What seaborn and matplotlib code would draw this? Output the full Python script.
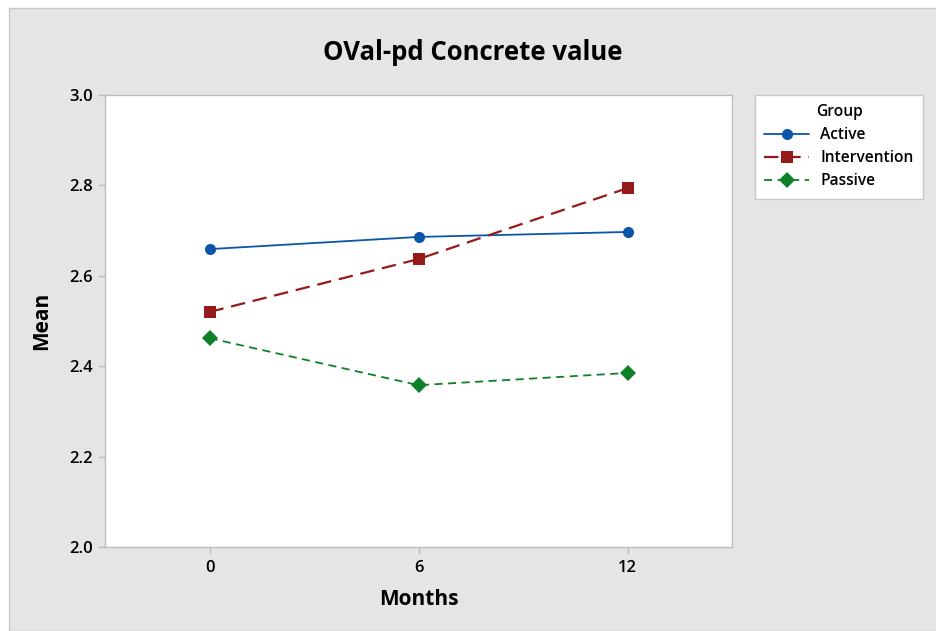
import matplotlib
matplotlib.use("Agg")
import matplotlib.pyplot as plt
import seaborn as sns
import pandas as pd
from matplotlib.patches import Rectangle

# data
months = [0, 6, 12]
groups = ["Active", "Intervention", "Passive"]
active_mean = [2.659, 2.686, 2.697]
intervention_mean = [2.520, 2.637, 2.794]
passive_mean = [2.462, 2.358, 2.385]

df = pd.DataFrame({
    "Months": months * 3,
    "Mean": active_mean + intervention_mean + passive_mean,
    "Group": [g for g in groups for _ in months],
})

sns.set_theme(style="white")
plt.rcParams["font.family"] = ["Open Sans", "DejaVu Sans"]
plt.rcParams["text.color"] = "black"

palette = {"Active": "#0B56A8", "Intervention": "#961A1A", "Passive": "#0E8128"}
markers = {"Active": "o", "Intervention": "s", "Passive": "D"}
dashes = {"Active": "", "Intervention": (6.5, 3.5), "Passive": (4.5, 3)}

fig = plt.figure(figsize=(9.36, 6.31), dpi=100)
fig.patch.set_facecolor("white")
# gray panel with thin border, like the Minitab graph window
fig.patches.append(Rectangle((9 / 936, 0), 1, 1 - 8 / 631, transform=fig.transFigure,
                             facecolor="#E5E5E5", edgecolor="#C8C8C8", lw=1, zorder=-10))

ax = fig.add_axes([105 / 936, 1 - 547 / 631, 627 / 936, 452 / 631])
ax.set_facecolor("white")

sns.lineplot(data=df, x="Months", y="Mean", hue="Group", style="Group",
             palette=palette, markers=markers, dashes=dashes,
             markersize=8, markeredgewidth=0, linewidth=1.3, ax=ax)

# thicker red dashes like the reference
for ln in ax.get_lines():
    if ln.get_color() == palette["Intervention"]:
        ln.set_linewidth(1.6)

ax.set_xlim(-3, 15)
ax.set_ylim(2.0, 3.0)
ax.set_xticks(months)
ax.set_yticks([2.0, 2.2, 2.4, 2.6, 2.8, 3.0])
ax.set_yticklabels(["2.0", "2.2", "2.4", "2.6", "2.8", "3.0"])
ax.tick_params(axis="both", direction="out", length=5, width=1, color="#BDBDBD",
               labelsize=12, labelcolor="black", pad=4)
ax.tick_params(axis="both", bottom=True, left=True)
for lab in ax.get_xticklabels() + ax.get_yticklabels():
    lab.set_fontweight("semibold")
for sp in ax.spines.values():
    sp.set_color("#BDBDBD")
    sp.set_linewidth(1)

ax.set_xlabel("Months", fontsize=15, fontweight="bold", labelpad=10, color="black")
ax.set_ylabel("Mean", fontsize=15, fontweight="bold", labelpad=12, color="black")
fig.text(0.5 + 9 / 936 / 2, 1 - 52 / 631, "OVal-pd Concrete value", ha="center", va="center",
         fontsize=18.5, fontweight="bold", color="black")

leg = ax.legend(title="Group", loc="upper left", bbox_to_anchor=(755 / 936, 1 - 95 / 631),
                bbox_transform=fig.transFigure, frameon=True, fancybox=False, framealpha=1,
                fontsize=11.2, title_fontsize=11.2, borderpad=0.6, handlelength=2.9,
                handletextpad=0.7, labelspacing=0.45, borderaxespad=0)
leg.get_frame().set_edgecolor("#C8C8C8")
leg.get_frame().set_facecolor("white")
leg.get_frame().set_linewidth(1)
for t in leg.get_texts():
    t.set_fontweight("semibold")
leg.get_title().set_fontweight("semibold")

fig.savefig("out.png", dpi=100, facecolor=fig.get_facecolor())
